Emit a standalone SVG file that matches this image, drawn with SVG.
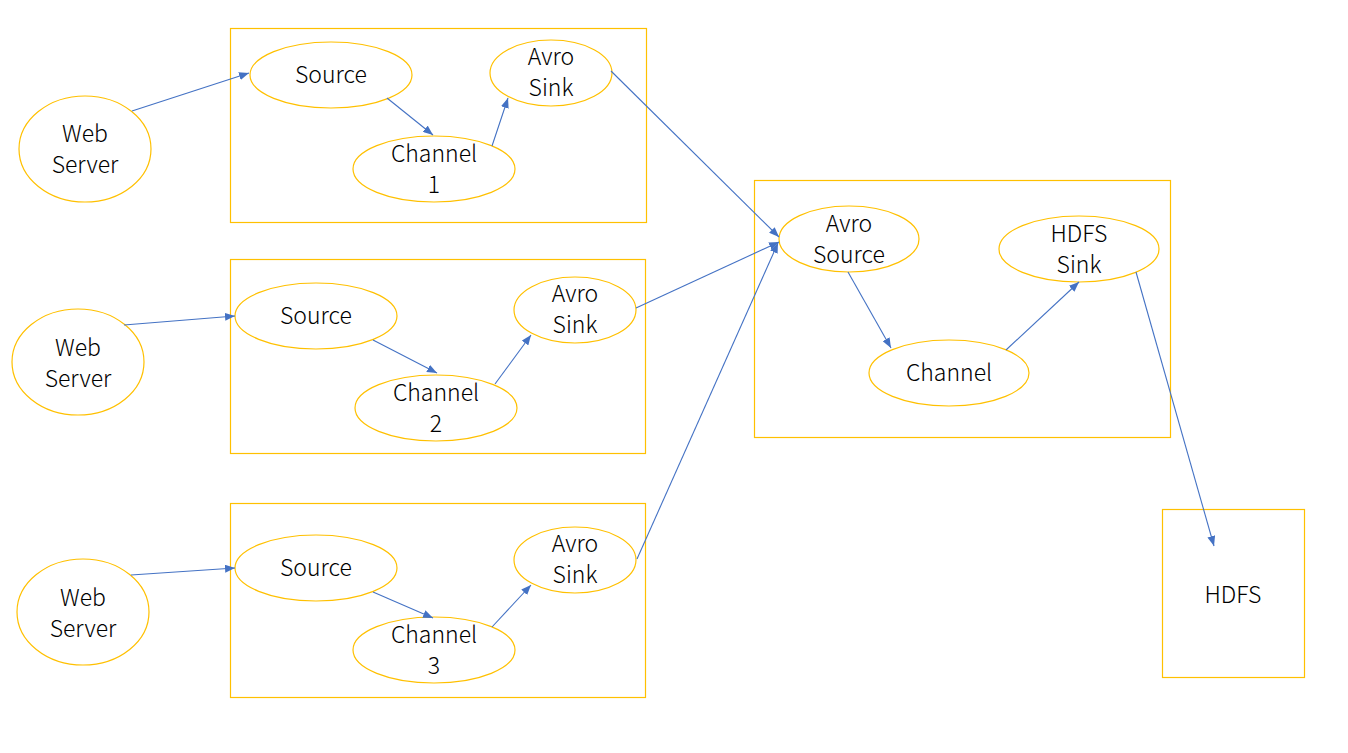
<svg xmlns="http://www.w3.org/2000/svg" width="1348" height="753" viewBox="0 0 1348 753">
<defs>
<style>
.box{fill:none;stroke:#FFC000;stroke-width:1.2}
.nd{fill:#fff;stroke:#FFC000;stroke-width:1.2}
.t{font-family:"Noto Sans CJK SC","Noto Sans",sans-serif;font-size:23px;font-weight:300;fill:#000;text-anchor:middle}
.c{stroke:#4472C4;stroke-width:1.1;fill:none;marker-end:url(#ah)}
</style>
<marker id="ah" markerWidth="10" markerHeight="8" refX="10" refY="4" orient="auto" markerUnits="userSpaceOnUse">
<path d="M0,0 L10,4 L0,8 Z" fill="#4472C4"/>
</marker>
</defs>
<rect width="1348" height="753" fill="#fff"/>
<g id="containers">
<rect class="box" x="230.5" y="28.5" width="416" height="194"/>
<rect class="box" x="230.5" y="259.5" width="415" height="194"/>
<rect class="box" x="230.5" y="503.5" width="415" height="194"/>
<rect class="box" x="754.5" y="180.5" width="416" height="257"/>
</g>
<g id="hdfs"><rect class="box" x="1162.5" y="509.5" width="142" height="168"/><text class="t" x="1233" y="603">HDFS</text></g>
<g id="ws1"><ellipse class="nd" cx="85" cy="149" rx="66" ry="53"/><text class="t" x="85" y="142">Web</text><text class="t" x="85" y="173">Server</text></g>
<g id="ws2"><ellipse class="nd" cx="78" cy="362" rx="66" ry="53"/><text class="t" x="78" y="356">Web</text><text class="t" x="78" y="387">Server</text></g>
<g id="ws3"><ellipse class="nd" cx="83" cy="612" rx="66" ry="53"/><text class="t" x="83" y="606">Web</text><text class="t" x="83" y="637">Server</text></g>
<g id="src1"><ellipse class="nd" cx="331" cy="75" rx="81" ry="33"/><text class="t" x="331" y="83">Source</text></g>
<g id="sink1"><ellipse class="nd" cx="551" cy="73" rx="61" ry="33"/><text class="t" x="551" y="65">Avro</text><text class="t" x="551" y="96">Sink</text></g>
<g id="ch1"><ellipse class="nd" cx="434" cy="169" rx="81" ry="33"/><text class="t" x="434" y="162">Channel</text><text class="t" x="434" y="193">1</text></g>
<g id="src2"><ellipse class="nd" cx="316" cy="316" rx="81" ry="33"/><text class="t" x="316" y="324">Source</text></g>
<g id="sink2"><ellipse class="nd" cx="575" cy="310" rx="61" ry="33"/><text class="t" x="575" y="302">Avro</text><text class="t" x="575" y="333">Sink</text></g>
<g id="ch2"><ellipse class="nd" cx="436" cy="408" rx="81" ry="33"/><text class="t" x="436" y="401">Channel</text><text class="t" x="436" y="432">2</text></g>
<g id="src3"><ellipse class="nd" cx="316" cy="568" rx="81" ry="33"/><text class="t" x="316" y="576">Source</text></g>
<g id="sink3"><ellipse class="nd" cx="575" cy="560" rx="61" ry="33"/><text class="t" x="575" y="552">Avro</text><text class="t" x="575" y="583">Sink</text></g>
<g id="ch3"><ellipse class="nd" cx="434" cy="650" rx="81" ry="33"/><text class="t" x="434" y="643">Channel</text><text class="t" x="434" y="674">3</text></g>
<g id="avrosrc"><ellipse class="nd" cx="849" cy="239" rx="70" ry="33"/><text class="t" x="849" y="232">Avro</text><text class="t" x="849" y="263">Source</text></g>
<g id="hdfssink"><ellipse class="nd" cx="1079" cy="249" rx="80" ry="33"/><text class="t" x="1079" y="242">HDFS</text><text class="t" x="1079" y="273">Sink</text></g>
<g id="channel"><ellipse class="nd" cx="949" cy="373" rx="80" ry="33"/><text class="t" x="949" y="381">Channel</text></g>
<g id="connectors">
<line class="c" x1="132" y1="111" x2="249" y2="73"/>
<line class="c" x1="387" y1="98" x2="433" y2="135"/>
<line class="c" x1="492" y1="146" x2="508" y2="98"/>
<line class="c" x1="611" y1="71" x2="779" y2="237"/>
<line class="c" x1="124" y1="325" x2="235" y2="316"/>
<line class="c" x1="373" y1="340" x2="437" y2="373"/>
<line class="c" x1="495" y1="384" x2="531" y2="335"/>
<line class="c" x1="636" y1="308" x2="779" y2="242"/>
<line class="c" x1="131" y1="575" x2="235" y2="568"/>
<line class="c" x1="373" y1="592" x2="433" y2="618"/>
<line class="c" x1="492" y1="627" x2="531" y2="585"/>
<line class="c" x1="637" y1="559" x2="778" y2="243"/>
<line class="c" x1="848" y1="272" x2="891" y2="348"/>
<line class="c" x1="1006" y1="350" x2="1079" y2="282"/>
<line class="c" x1="1136" y1="272" x2="1214" y2="546"/>
</g>
</svg>
